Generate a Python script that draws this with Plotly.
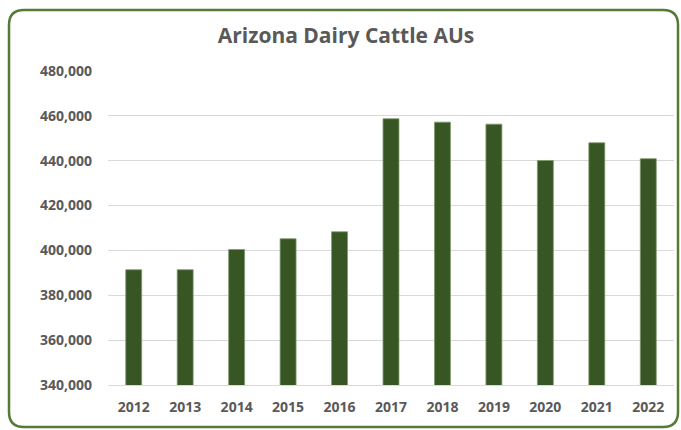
import plotly.graph_objects as go

years = ["2012", "2013", "2014", "2015", "2016", "2017", "2018", "2019", "2020", "2021", "2022"]
dairy_aus = [391400, 391400, 400400, 405200, 408300, 458700, 457200, 456300, 440100, 448000, 440900]
y_ticks = [340000, 360000, 380000, 400000, 420000, 440000, 460000, 480000]
y_tick_text = [f"{v:,}" for v in y_ticks]

W, H = 681, 430
L, R, T, B = 108, 7, 71, 45
pw, ph = W - L - R, H - T - B

def P(x, y):
    a, b = (x - L) / pw, (H - B - y) / ph
    return f"{a:.5f},{b:.5f}"

# rounded border path (pixel coordinates converted to paper)
x0, y0, x1, y1, r = 9, 10, 678, 427, 15
path = (f"M {P(x0 + r, y0)} L {P(x1 - r, y0)} Q {P(x1, y0)} {P(x1, y0 + r)} "
        f"L {P(x1, y1 - r)} Q {P(x1, y1)} {P(x1 - r, y1)} "
        f"L {P(x0 + r, y1)} Q {P(x0, y1)} {P(x0, y1 - r)} "
        f"L {P(x0, y0 + r)} Q {P(x0, y0)} {P(x0 + r, y0)} Z")

font_family = "Open Sans"
grey = "#595959"

fig = go.Figure(
    go.Bar(
        x=years,
        y=dairy_aus,
        marker=dict(color="#375623", line=dict(color="#7F9A6C", width=0.8)),
        hoverinfo="x+y",
    )
)

fig.update_layout(
    width=W,
    height=H,
    margin=dict(l=L, r=R, t=T, b=B),
    paper_bgcolor="white",
    plot_bgcolor="white",
    bargap=0.69,
    showlegend=False,
    title=dict(
        text="<b>Arizona Dairy Cattle AUs</b>",
        x=346 / W,
        xanchor="center",
        y=1 - 36 / H,
        yanchor="middle",
        font=dict(family=font_family, size=21, color=grey),
    ),
    shapes=[
        dict(type="path", path=path, xref="paper", yref="paper",
             line=dict(color="#557A35", width=2.5), fillcolor="rgba(0,0,0,0)", layer="above"),
    ],
)

fig.update_xaxes(
    type="category",
    showgrid=False,
    showline=True,
    linecolor="#D9D9D9",
    linewidth=1,
    ticks="",
    ticklabelstandoff=9,
    tickfont=dict(family=font_family, size=14, color=grey, weight="bold"),
)

fig.update_yaxes(
    range=[340000, 480000],
    tickvals=y_ticks,
    ticktext=y_tick_text,
    showgrid=True,
    gridcolor="#D9D9D9",
    gridwidth=1,
    zeroline=False,
    showline=False,
    ticks="",
    ticklabelstandoff=15,
    tickfont=dict(family=font_family, size=14, color=grey, weight="bold"),
)

fig.write_html(
    "out.html",
    config={"displayModeBar": False},
    post_script="document.body.style.margin='0';document.body.style.overflow='hidden';",
)
